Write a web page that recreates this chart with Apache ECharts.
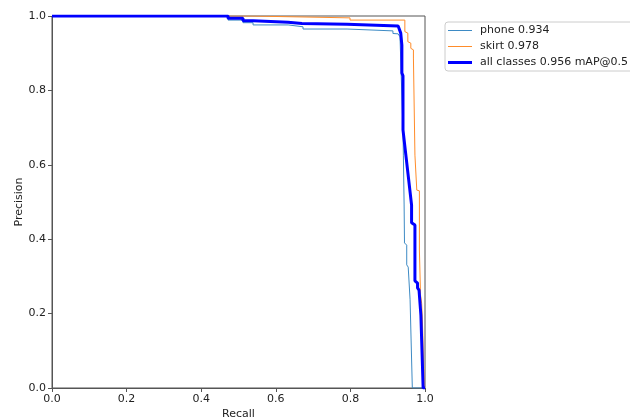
<!DOCTYPE html>
<html>
<head>
<meta charset="utf-8">
<script src="https://cdn.jsdelivr.net/npm/echarts@6/dist/echarts.min.js"></script>
<style>
	html, body { margin: 0; padding: 0; background: #fff; }
	#chart { width: 630px; height: 419px; }
</style>
</head>
<body>
<div id="chart"></div>
<script>
// PR curve, values
var phoneRecall = [0, 0.472, 0.472, 0.512, 0.512, 0.539, 0.539, 0.633, 0.633, 0.673, 0.673, 0.791, 0.791, 0.914, 0.914, 0.928, 0.933, 0.938, 0.941, 0.942, 0.944, 0.945, 0.951, 0.951, 0.955, 0.960, 0.966, 1.0];
var phonePrecision = [1, 1, 0.989, 0.989, 0.982, 0.982, 0.976, 0.976, 0.971, 0.971, 0.965, 0.965, 0.960, 0.960, 0.953, 0.952, 0.944, 0.785, 0.694, 0.626, 0.492, 0.390, 0.384, 0.331, 0.325, 0.237, 0, 0];

var skirtRecall = [0, 0.531, 0.531, 0.799, 0.799, 0.946, 0.946, 0.954, 0.954, 0.962, 0.962, 0.969, 0.969, 0.973, 0.973, 0.978, 0.978, 0.985, 0.985, 0.988, 0.988, 0.991, 0.991, 0.993, 0.998, 1.0];
var skirtPrecision = [1, 1, 0.995, 0.995, 0.989, 0.989, 0.958, 0.954, 0.931, 0.927, 0.913, 0.909, 0.887, 0.884, 0.626, 0.624, 0.532, 0.530, 0.371, 0.366, 0.250, 0.245, 0.228, 0.183, 0, 0];

var allRecall = [0, 0.472, 0.472, 0.512, 0.512, 0.539, 0.539, 0.633, 0.633, 0.670, 0.670, 0.791, 0.791, 0.928, 0.935, 0.938, 0.938, 0.941, 0.941, 0.948, 0.964, 0.964, 0.973, 0.973, 0.980, 0.980, 0.984, 0.987, 0.989, 0.995, 1.0];
var allPrecision = [1, 1, 0.994, 0.994, 0.987, 0.987, 0.983, 0.983, 0.980, 0.980, 0.978, 0.978, 0.973, 0.973, 0.954, 0.922, 0.847, 0.839, 0.694, 0.632, 0.492, 0.444, 0.438, 0.288, 0.282, 0.269, 0.263, 0.223, 0.196, 0, 0];

var tickLabels = ['0.0', '0.2', '0.4', '0.6', '0.8', '1.0'];

function pairs(xs, ys) {
	return xs.map(function(x, i) { return [x, ys[i]]; });
}

var chart = echarts.init(document.getElementById('chart'), null, { renderer: 'canvas' });
var font = 'DejaVu Sans';

var axisCommon = {
	type: 'value',
	min: 0,
	max: 1,
	interval: 0.2,
	splitLine: { show: false },
	axisLine: { show: true, lineStyle: { color: '#555', width: 1 } },
	axisTick: { show: true, inside: false, length: 4, lineStyle: { color: '#555' } },
	axisLabel: {
		color: '#222', fontFamily: font, fontSize: 11, margin: 6,
		formatter: function(v) { return tickLabels[Math.round(v / 0.2)]; }
	},
	nameLocation: 'middle',
	nameMoveOverlap: false,
	nameTextStyle: { color: '#222', fontFamily: font, fontSize: 11 }
};

// legend line samples: thin and thick bars
var thinIcon = 'path://M0,0 H24 V1 H0 Z';
var thickIcon = 'path://M0,0 H24 V3 H0 Z';

var option = {
	animation: false,
	backgroundColor: '#fff',
	grid: {
		left: 52, top: 16, width: 373, height: 372,
		outerBoundsMode: 'none',
		containLabel: false,
		show: true, borderColor: '#555', borderWidth: 1, backgroundColor: 'transparent'
	},
	xAxis: echarts.util.merge({ name: 'Recall', nameGap: 21 }, axisCommon, true),
	yAxis: echarts.util.merge({ name: 'Precision', nameGap: 27 }, axisCommon, true),
	legend: {
		orient: 'vertical',
		left: 445,
		top: 22,
		padding: [3, 6, 3, 3],
		itemWidth: 24,
		itemHeight: 10,
		itemGap: 5,
		backgroundColor: '#fff',
		borderColor: '#ccc',
		borderWidth: 1,
		borderRadius: 3,
		textStyle: { color: '#222', fontFamily: font, fontSize: 11, padding: [0, 0, 0, 3] },
		data: [
			{ name: 'phone 0.934', icon: thinIcon },
			{ name: 'skirt 0.978', icon: thinIcon },
			{ name: 'all classes 0.956 mAP@0.5', icon: thickIcon }
		]
	},
	series: [{
		name: 'phone 0.934',
		type: 'line',
		showSymbol: false,
		symbol: 'none',
		color: '#3d8ac4',
		lineStyle: { width: 1, color: '#3d8ac4' },
		data: pairs(phoneRecall, phonePrecision)
	}, {
		name: 'skirt 0.978',
		type: 'line',
		showSymbol: false,
		symbol: 'none',
		color: '#ff8c2a',
		lineStyle: { width: 1, color: '#ff8c2a' },
		data: pairs(skirtRecall, skirtPrecision)
	}, {
		name: 'all classes 0.956 mAP@0.5',
		type: 'line',
		showSymbol: false,
		symbol: 'none',
		color: '#0000ff',
		lineStyle: { width: 3, color: '#0000ff' },
		data: pairs(allRecall, allPrecision)
	}]
};

chart.setOption(option);
</script>
</body>
</html>
